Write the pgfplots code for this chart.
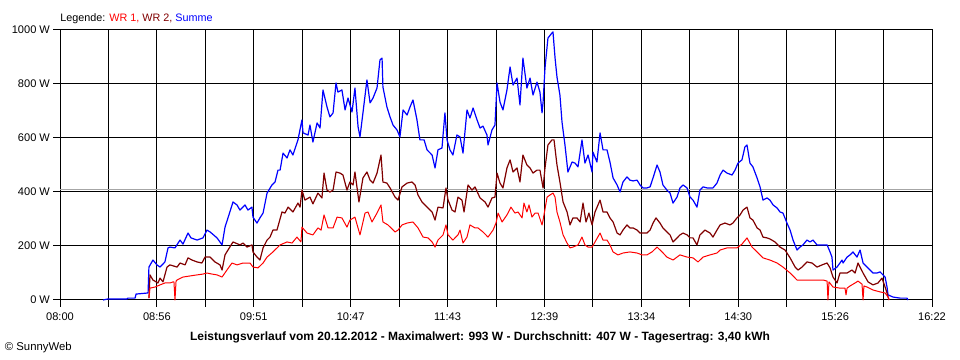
\documentclass[border=0pt]{standalone}
\usepackage{pgfplots}
\usepackage{pgfplotstable}
\pgfplotsset{compat=1.18}
\usepackage{fontspec}
\setmainfont{Liberation Sans}
\definecolor{wrone}{RGB}{255,0,0}
\definecolor{wrtwo}{RGB}{128,0,0}
\definecolor{summe}{RGB}{0,0,255}

\pgfplotstableread{
m W
24.8 0
27.6 4
38.6 4
39.1 7
43.2 7
43.8 22
50.7 26
51.2 122
53.5 148
55.8 130
57.6 122
60.4 141
62.2 193
63.3 196
66.2 193
69.1 222
70.8 207
73.7 248
75.4 230
78.9 222
82.3 230
84.6 259
86.4 252
90.4 230
93.3 204
95.0 270
96.7 304
99.6 363
101.9 352
103.6 333
106.5 352
108.2 333
110.5 344
111.1 307
113.4 285
115.1 304
116.9 322
119.2 396
122.0 426
123.8 437
125.5 481
126.7 481
128.4 544
130.7 526
132.4 556
134.1 537
137.0 593
139.3 667
139.9 619
142.8 611
143.9 648
145.6 585
148.0 656
149.7 637
151.4 778
153.7 715
155.4 678
157.2 693
158.9 804
160.0 770
162.3 778
164.1 704
165.8 748
168.1 696
169.8 785
171.6 641
172.7 604
174.4 693
176.7 815
178.5 730
180.2 748
182.5 785
184.2 889
185.4 896
185.9 789
188.2 715
190.0 678
191.7 648
194.0 630
195.7 604
197.5 704
199.8 685
201.5 715
203.2 741
205.5 667
207.2 593
209.6 593
211.3 556
214.2 537
215.9 489
217.6 556
219.9 563
221.6 693
222.8 593
224.5 556
226.2 537
228.5 611
230.3 604
232.0 544
234.3 704
236.0 674
237.8 711
240.1 667
241.8 637
243.5 644
245.8 611
246.4 574
248.7 630
250.4 648
251.6 804
253.3 733
255.0 704
257.3 778
259.1 863
260.8 796
263.1 822
264.8 722
266.5 896
268.8 785
270.6 822
272.3 759
274.6 807
276.3 770
277.5 693
278.1 733
279.2 859
280.9 970
283.2 989
283.8 993
285.0 896
286.1 826
287.8 759
289.0 659
290.7 574
292.4 474
294.8 511
296.5 507
298.2 493
300.5 593
302.2 507
304.0 537
306.3 474
306.8 548
309.1 511
310.9 619
312.6 556
314.9 556
316.6 511
318.4 452
320.7 426
322.4 400
324.1 437
326.4 456
328.1 444
329.9 441
332.2 444
333.9 426
335.6 415
337.9 415
339.7 419
341.4 452
343.7 500
345.4 474
347.1 426
349.4 407
351.2 396
352.9 359
355.2 381
356.9 415
358.7 426
361.0 415
362.7 381
364.4 370
366.7 344
368.4 407
370.2 419
372.5 415
374.2 415
375.9 415
378.2 433
380.0 463
381.7 481
384.0 470
386.9 463
388.6 481
390.3 507
392.6 519
394.3 567
395.5 574
397.2 507
398.9 493
401.3 452
403.0 419
404.7 370
407.0 378
408.7 370
410.5 352
412.8 341
414.5 326
416.2 322
418.5 285
420.3 259
422.0 222
424.3 185
426.0 196
427.7 204
430.0 222
431.8 215
433.5 222
435.8 204
437.5 204
439.3 204
441.6 204
443.3 178
444.4 159
445.0 111
447.3 122
449.0 137
450.2 148
450.8 137
453.1 159
454.8 167
456.5 178
458.8 159
460.6 185
462.3 137
464.6 122
466.3 111
468.0 100
470.3 100
472.1 104
475.0 85
476.1 48
476.7 19
479.5 11
483.6 7
487.6 7
488.2 0
}\summetab

\pgfplotstableread{
m W
51.2 7
51.8 44
54.7 48
57.6 56
60.4 63
63.3 63
65.1 67
65.6 67
66.2 0
66.8 70
67.4 74
70.8 85
74.8 89
78.9 93
82.3 96
84.6 100
87.5 96
90.4 93
93.3 85
96.1 111
99.0 137
101.9 130
105.4 137
109.4 137
111.1 122
114.0 119
116.9 137
119.2 159
122.6 178
126.7 204
130.7 215
133.6 211
136.4 233
138.7 215
139.3 270
142.2 248
145.6 241
148.5 267
150.3 259
152.0 315
154.3 267
157.2 267
159.5 307
162.3 304
165.2 270
166.9 296
169.8 307
172.7 241
175.6 322
177.3 326
179.6 289
182.5 322
184.8 352
185.9 289
188.8 278
192.9 252
194.6 259
196.9 278
199.8 285
203.2 289
206.1 267
209.0 233
211.9 230
214.2 215
215.9 196
217.6 222
220.5 241
222.2 278
223.4 241
226.2 222
229.1 241
230.3 259
232.0 211
234.3 233
236.0 278
238.9 267
240.6 267
243.5 252
246.4 233
249.3 259
251.0 285
252.2 322
254.5 289
257.3 315
259.6 344
261.9 322
263.7 326
266.0 304
267.1 359
268.8 326
270.0 352
271.7 307
273.5 322
275.2 322
277.5 278
278.1 296
280.4 381
282.1 389
283.8 396
285.0 381
286.1 326
287.8 289
289.6 241
291.9 211
293.6 193
295.3 196
298.2 204
300.5 233
302.2 204
304.0 196
306.3 196
308.0 215
310.9 248
312.6 222
314.9 222
316.6 204
318.4 178
321.2 167
324.1 174
328.1 178
332.2 174
335.1 167
337.9 167
340.8 178
343.7 196
346.6 178
349.4 159
352.9 148
356.9 167
361.0 159
364.4 156
367.3 141
370.2 159
374.2 167
378.2 174
380.0 185
384.0 193
389.7 193
392.6 207
395.5 230
398.4 196
401.3 178
404.7 156
408.7 148
412.8 137
416.2 122
420.3 100
424.3 74
427.7 74
431.8 74
435.8 74
439.3 74
441.6 70
442.1 0
442.7 67
445.0 48
449.0 44
451.9 44
452.5 19
453.1 44
454.8 52
457.7 63
459.4 70
461.7 59
462.3 0
462.8 52
464.6 48
468.0 37
472.1 30
475.0 26
476.7 11
477.3 0
}\wronetab

\pgfplotstableread{
m W
51.2 7
51.8 93
53.5 74
56.4 63
57.6 81
59.3 67
61.6 122
63.3 130
67.4 122
69.1 137
72.0 130
73.7 156
76.0 148
78.9 141
81.7 137
83.5 159
86.4 159
89.2 141
92.1 130
93.3 111
95.0 167
96.7 185
99.6 215
103.6 204
105.4 211
107.7 196
110.5 204
111.1 178
113.4 159
115.1 148
116.9 193
119.2 222
120.9 233
122.6 259
124.9 259
127.8 326
129.5 322
131.3 344
134.1 326
137.0 359
138.2 344
139.3 407
141.0 370
143.9 381
145.6 356
148.5 396
150.8 378
152.0 470
153.7 407
155.4 400
157.2 407
158.9 474
161.2 470
162.9 463
165.2 407
166.9 437
168.7 426
169.8 474
172.1 363
174.4 452
176.7 474
178.5 444
180.2 433
182.5 470
184.8 537
185.9 437
188.2 433
190.0 415
192.9 381
194.6 370
196.9 419
199.8 433
202.6 437
204.4 426
206.1 389
208.4 363
211.3 344
214.2 326
215.9 296
217.6 344
220.5 341
222.2 415
223.4 370
225.7 333
227.4 326
229.1 381
231.4 370
232.6 326
234.9 426
237.2 407
238.9 419
241.8 378
244.7 363
246.4 344
248.7 378
250.4 381
251.6 470
253.3 433
255.0 415
257.3 489
259.1 519
260.8 474
263.1 489
264.8 437
266.5 537
268.8 500
270.6 489
272.3 470
274.6 481
276.3 481
278.1 415
279.2 489
280.9 574
283.2 593
284.4 593
286.1 500
287.8 437
289.6 363
291.9 326
293.6 278
295.3 304
297.6 304
299.4 289
301.1 359
302.8 289
304.5 322
306.3 278
308.0 326
310.9 370
312.6 326
314.9 326
316.6 304
318.4 289
320.7 248
322.4 241
324.1 259
326.4 278
328.1 267
329.9 267
332.2 259
333.9 248
335.6 248
337.9 248
339.7 259
341.4 285
343.1 304
345.4 285
347.1 267
349.4 252
351.2 241
352.9 215
355.2 230
356.9 241
358.7 248
361.0 241
362.7 230
364.4 230
366.7 204
368.4 241
371.3 259
374.2 248
375.9 233
378.2 259
380.0 278
382.8 285
385.7 278
387.4 285
389.7 304
391.5 315
393.2 333
395.5 344
397.2 304
398.9 296
401.3 267
403.0 259
404.7 233
407.0 230
408.7 226
411.6 215
414.5 196
417.4 185
420.3 156
423.2 122
424.9 111
427.2 122
430.0 141
432.9 137
435.8 122
438.7 130
441.6 137
443.3 119
445.0 85
447.3 63
449.0 100
453.1 100
455.9 111
457.7 100
459.4 137
462.3 100
465.2 67
468.0 56
470.9 63
473.2 81
475.0 48
476.1 26
476.7 11
477.3 0
}\wrtwotab

\begin{document}
\begin{tikzpicture}
\useasboundingbox (-45pt,-45pt) rectangle (675pt,225pt);
\begin{axis}[
  scale only axis,
  width=654pt, height=202.5pt,
  xmin=0, xmax=502, ymin=0, ymax=1000,
  axis line style={black, line width=0.75pt},
  xtick={0,55.78,111.56,167.33,223.11,278.89,334.67,390.44,446.22,502},
  xticklabels={08:00,08:56,09:51,10:47,11:43,12:39,13:34,14:30,15:26,16:22},
  minor xtick={27.89,83.67,139.44,195.22,251,306.78,362.56,418.33,474.11},
  ytick={0,200,400,600,800,1000},
  yticklabels={0 W,200 W,400 W,600 W,800 W,1000 W},
  grid=both,
  major grid style={black, line width=0.75pt},
  minor grid style={black, line width=0.75pt},
  tick pos=left,
  tick align=outside,
  major tick length=5pt,
  minor tick length=5pt,
  every tick/.style={black, line width=0.75pt},
  ytick style={black, line width=0.75pt},
  minor ytick={},
  tick label style={font=\fontsize{8.3}{10}\selectfont},
  xticklabel style={yshift=-1pt},
  yticklabel style={xshift=1pt},
  clip=false,
]
\addplot[gray!70, line width=0.75pt] coordinates {(0,409) (502,409)};
\addplot[summe, line width=0.9pt, line join=round] table[x=m, y=W] {\summetab};
\addplot[wrtwo, line width=0.9pt, line join=round] table[x=m, y=W] {\wrtwotab};
\addplot[wrone, line width=0.75pt, line join=round] table[x=m, y=W] {\wronetab};
\node[anchor=base west, inner sep=0pt, font=\fontsize{8.1}{10}\selectfont] at ([yshift=6.5pt]rel axis cs:0,1) {Legende: \textcolor{wrone}{WR 1,} \textcolor{wrtwo}{WR 2,} \textcolor{summe}{Summe}};
\node[anchor=center, inner sep=0pt, font=\fontsize{9}{10}\selectfont\bfseries] at ([yshift=-27.75pt]rel axis cs:0.4817,0) {Leistungsverlauf vom 20.12.2012 - Maximalwert: 993 W - Durchschnitt: 407 W - Tagesertrag: 3,40 kWh};
\node[anchor=west, inner sep=0pt, font=\fontsize{8.5}{10}\selectfont] at ([xshift=-41.5pt,yshift=-36pt]rel axis cs:0,0) {\textcopyright\ SunnyWeb};
\end{axis}
\end{tikzpicture}
\end{document}
